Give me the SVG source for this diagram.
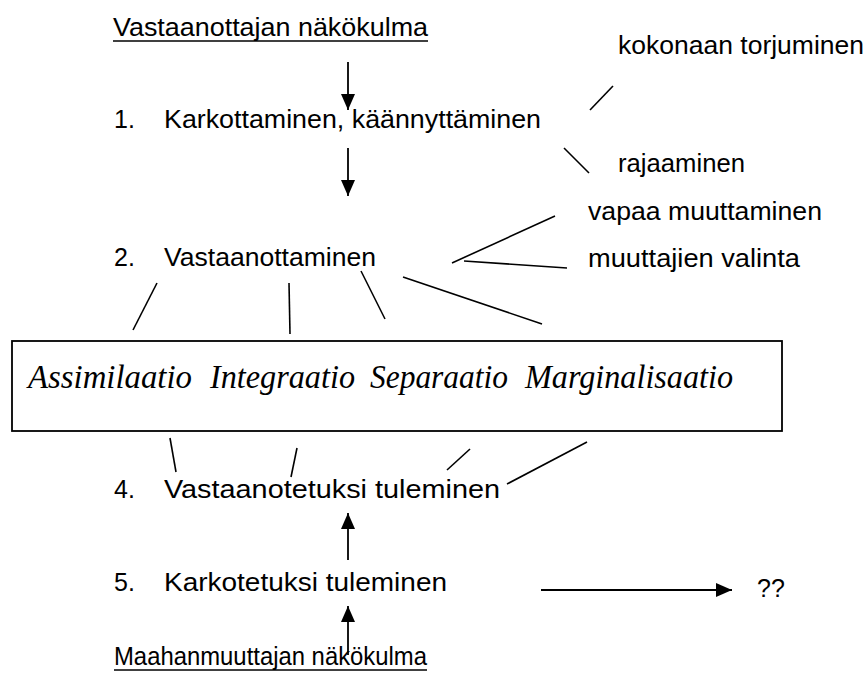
<svg xmlns="http://www.w3.org/2000/svg" width="867" height="684" viewBox="0 0 867 684">
<defs>
<style>
.t{font-family:"Liberation Sans",Arial,sans-serif;font-size:25px;fill:#000}
.i{font-family:"Liberation Serif","Times New Roman",serif;font-size:33px;font-style:italic;fill:#000}
.ln{stroke:#000;stroke-width:1.6;fill:none}
.ar{stroke:#000;stroke-width:1.8;fill:none;marker-end:url(#ah)}
</style>
<marker id="ah" viewBox="0 0 16 14" refX="16" refY="7" markerWidth="16" markerHeight="14" markerUnits="userSpaceOnUse" orient="auto">
<path d="M0,0 L16,7 L0,14 Z" fill="#000"/>
</marker>
</defs>
<rect width="867" height="684" fill="#fff"/>

<g id="title-top">
<text class="t" x="113" y="36" textLength="315" lengthAdjust="spacingAndGlyphs">Vastaanottajan näkökulma</text>
<line class="ln" x1="113" y1="41" x2="428" y2="41"/>
</g>
<g id="n1">
<text class="t" x="114" y="128">1.</text>
<text class="t" x="164" y="128" textLength="377" lengthAdjust="spacingAndGlyphs">Karkottaminen, käännyttäminen</text>
</g>
<g id="kokonaan"><text class="t" x="618" y="54" textLength="246" lengthAdjust="spacingAndGlyphs">kokonaan torjuminen</text></g>
<g id="rajaaminen"><text class="t" x="618" y="172" textLength="127" lengthAdjust="spacingAndGlyphs">rajaaminen</text></g>
<g id="vapaa"><text class="t" x="588" y="220" textLength="234" lengthAdjust="spacingAndGlyphs">vapaa muuttaminen</text></g>
<g id="valinta"><text class="t" x="588" y="267" textLength="212" lengthAdjust="spacingAndGlyphs">muuttajien valinta</text></g>
<g id="n2">
<text class="t" x="114" y="266">2.</text>
<text class="t" x="164" y="266" textLength="212" lengthAdjust="spacingAndGlyphs">Vastaanottaminen</text>
</g>
<g id="box">
<rect x="12" y="341" width="770" height="90" fill="#fff" stroke="#000" stroke-width="1.8"/>
<text class="i" x="28" y="388" textLength="164" lengthAdjust="spacingAndGlyphs">Assimilaatio</text>
<text class="i" x="210" y="388" textLength="145" lengthAdjust="spacingAndGlyphs">Integraatio</text>
<text class="i" x="370" y="388" textLength="138" lengthAdjust="spacingAndGlyphs">Separaatio</text>
<text class="i" x="525" y="388" textLength="208" lengthAdjust="spacingAndGlyphs">Marginalisaatio</text>
</g>
<g id="n4">
<text class="t" x="114" y="498">4.</text>
<text class="t" x="164" y="498" textLength="336" lengthAdjust="spacingAndGlyphs">Vastaanotetuksi tuleminen</text>
</g>
<g id="n5">
<text class="t" x="114" y="591">5.</text>
<text class="t" x="164" y="591" textLength="283" lengthAdjust="spacingAndGlyphs">Karkotetuksi tuleminen</text>
</g>
<g id="qq"><text class="t" x="757" y="597">??</text></g>
<g id="title-bottom">
<text class="t" x="114" y="665" textLength="313" lengthAdjust="spacingAndGlyphs">Maahanmuuttajan näkökulma</text>
<line class="ln" x1="114" y1="670" x2="427" y2="670"/>
</g>

<g id="connectors">
<line class="ar" x1="348" y1="62" x2="348" y2="110"/>
<line class="ar" x1="348" y1="148" x2="348" y2="196"/>
<line class="ln" x1="590" y1="110" x2="613" y2="86"/>
<line class="ln" x1="564" y1="148" x2="589" y2="173"/>
<line class="ln" x1="452" y1="263" x2="555" y2="216"/>
<line class="ln" x1="464" y1="261" x2="567" y2="268"/>
<line class="ln" x1="157" y1="283" x2="133" y2="330"/>
<line class="ln" x1="289" y1="283" x2="290" y2="334"/>
<line class="ln" x1="361" y1="271" x2="385" y2="319"/>
<line class="ln" x1="403" y1="277" x2="542" y2="324"/>
<line class="ln" x1="170" y1="438" x2="176" y2="472"/>
<line class="ln" x1="297" y1="448" x2="291" y2="477"/>
<line class="ln" x1="447" y1="470" x2="470" y2="449"/>
<line class="ln" x1="507" y1="484" x2="587" y2="442"/>
<line class="ar" x1="348" y1="560" x2="348" y2="513"/>
<line class="ar" x1="541" y1="590" x2="732" y2="590"/>
<line class="ar" x1="348" y1="655" x2="348" y2="606"/>
</g>
</svg>
